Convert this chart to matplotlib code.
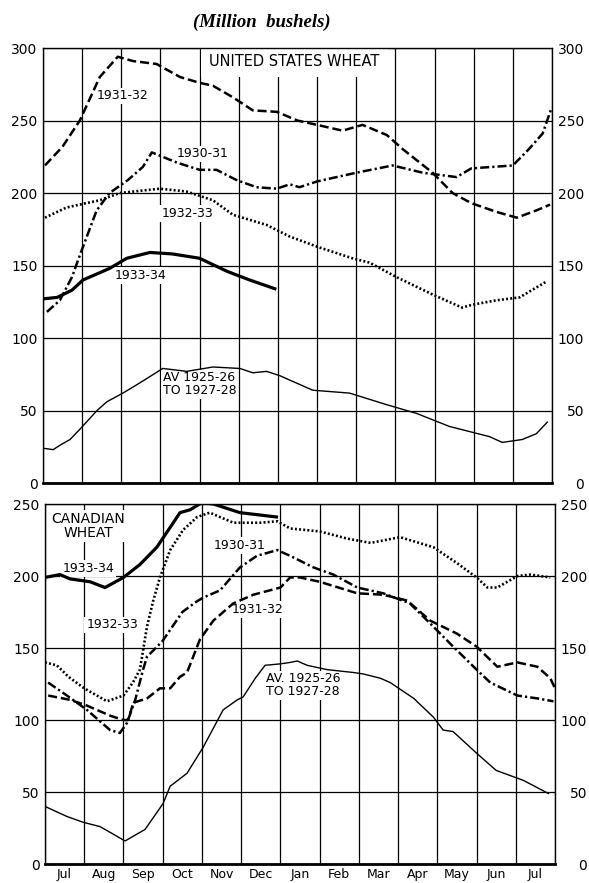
#wheat stocks chart: united states and canada, million bushels
import numpy as np
import matplotlib
matplotlib.use("Agg")
import matplotlib.pyplot as plt

plt.rcParams["font.family"] = ["DejaVu Sans"]
plt.rcParams["lines.scale_dashes"] = False

#month labels, x runs 0..13 (start of Jul to end of next Jul)
MONTHS = ["Jul", "Aug", "Sep", "Oct", "Nov", "Dec", "Jan",
          "Feb", "Mar", "Apr", "May", "Jun", "Jul"]

#united states wheat
us_3132_x = [0.05, 0.5, 0.94, 1.45, 1.91, 2.3, 2.9, 3.5, 4.0, 4.34, 4.85, 5.36, 5.97,
             6.5, 7.0, 7.65, 8.16, 8.78, 9.2, 9.95, 10.46, 10.94, 11.58, 12.1, 12.6, 12.95]
us_3132_y = [219, 232, 250, 280, 294, 291, 289, 280, 276, 274, 266, 257, 256,
             250, 247, 243, 247, 240, 230, 214, 200, 193, 187, 183, 188, 192]

us_3031_x = [0.1, 0.43, 0.74, 0.94, 1.37, 1.7, 2.17, 2.55, 2.78, 3.42, 4.0, 4.43, 4.94,
             5.45, 5.97, 6.3, 6.55, 7.0, 8.0, 8.93, 9.7, 10.56, 10.94, 12.0, 12.4, 12.76, 12.98]
us_3031_y = [118, 126, 142, 157, 188, 200, 209, 218, 228, 221, 216, 216, 209,
             204, 203, 206, 204, 208, 214, 219, 214, 211, 217, 219, 230, 241, 258]

us_3233_x = [0.05, 0.6, 1.1, 1.45, 1.96, 2.98, 3.67, 4.34, 4.85, 5.71, 6.3, 7.0, 7.9,
             8.34, 9.03, 9.95, 10.7, 10.97, 11.58, 12.17, 12.86]
us_3233_y = [183, 190, 193, 195, 200, 203, 201, 195, 185, 178, 170, 163, 155,
             152, 142, 130, 121, 123, 126, 128, 139]

us_3334_x = [0, 0.36, 0.74, 1.02, 1.7, 2.14, 2.73, 3.3, 4.0, 4.7, 5.28, 5.92]
us_3334_y = [127, 128, 133, 140, 148, 155, 159, 158, 155, 146, 140, 134]

us_avg_x = [0, 0.26, 0.43, 0.69, 0.94, 1.38, 1.63, 2.04, 2.47, 3.06, 3.67, 4.34, 5.03, 5.36,
            5.71, 6.05, 6.3, 6.89, 7.83, 8.78, 9.54, 10.38, 11.4, 11.73, 12.24, 12.6, 12.88]
us_avg_y = [24, 23, 26, 30, 37, 50, 56, 62, 69, 79, 77, 80, 79, 76,
            77, 74, 71, 64, 62, 54, 48, 39, 32, 28, 30, 34, 42]

#canadian wheat
ca_3334_x = [0, 0.38, 0.64, 1.15, 1.53, 2.0, 2.42, 2.85, 3.27, 3.44, 3.7, 4.0, 4.29, 4.97, 5.9]
ca_3334_y = [199, 201, 198, 196, 192, 199, 208, 220, 237, 244, 246, 251, 250, 244, 241]

ca_3233_x = [0, 0.3, 0.6, 1.0, 1.58, 2.0, 2.24, 2.42, 2.6, 2.76, 2.93, 3.19, 3.52, 3.88, 4.2,
             4.8, 5.48, 5.92, 6.25, 7.0, 7.7, 8.3, 9.05, 9.9, 10.5, 11.0, 11.28, 11.53,
             12.04, 12.37, 12.88]
ca_3233_y = [140, 138, 130, 122, 113, 117, 126, 135, 165, 183, 199, 218, 232, 241, 244,
             237, 237, 238, 233, 231, 226, 223, 227, 220, 209, 199, 192, 192,
             200, 201, 199]

ca_3031_x = [0.08, 0.56, 1.07, 1.66, 1.91, 2.09, 2.3, 2.5, 2.6, 2.86, 3.0, 3.3, 3.5, 3.85,
             4.03, 4.46, 4.97, 5.4, 5.92, 6.25, 6.84, 7.35, 7.96, 8.62, 9.3, 9.82, 10.33,
             11.0, 11.35, 12.04, 12.55, 12.96]
ca_3031_y = [126, 117, 107, 93, 91, 98, 114, 135, 144, 151, 155, 167, 175, 182,
             185, 190, 206, 214, 218, 214, 206, 201, 192, 188, 181, 167, 153,
             135, 126, 117, 115, 113]

ca_3132_x = [0.08, 0.64, 1.07, 1.66, 2.0, 2.12, 2.25, 2.6, 2.93, 3.19, 3.44, 3.62, 3.95,
             4.29, 4.8, 5.31, 6.0, 6.25, 6.5, 7.0, 7.96, 8.62, 9.23, 9.82, 10.5, 11.0,
             11.53, 12.04, 12.55, 12.88, 13.0]
ca_3132_y = [117, 114, 110, 103, 100, 100, 112, 115, 122, 122, 130, 133, 156,
             169, 181, 187, 192, 199, 199, 196, 188, 187, 183, 169, 160, 151,
             137, 140, 137, 129, 122]

ca_avg_x = [0, 0.56, 0.97, 1.4, 1.66, 2.04, 2.55, 3.01, 3.19, 3.62, 4.03, 4.54, 4.9, 5.05,
            5.36, 5.61, 6.0, 6.25, 6.43, 6.68, 7.19, 7.86, 8.11, 8.55, 8.8, 9.4, 9.9,
            10.15, 10.4, 11.0, 11.5, 12.2, 12.83]
ca_avg_y = [40, 33, 29, 26, 22, 16, 24, 42, 54, 63, 81, 107, 114, 116,
            129, 138, 139, 140, 141, 138, 135, 133, 132, 129, 126, 115, 102,
            93, 92, 77, 65, 58, 49]

#line styles
DASHED = dict(color="black", lw=1.8, dashes=(6.5, 2.8))
DASHDOT = dict(color="black", lw=1.8, dashes=(6.5, 2.2, 1.6, 2.2))
DOTTED = dict(color="black", lw=1.9, dashes=(1.4, 1.6))
THICK = dict(color="black", lw=2.3)
THIN = dict(color="black", lw=1.0)

LABEL_BOX = dict(facecolor="white", edgecolor="none", boxstyle="square,pad=0.15")


def setupPanel(ax, ymax, show_months):
    #limits, grid, ticks on both sides
    ax.set_xlim(0, 13)
    ax.set_ylim(0, ymax)
    yt = np.arange(0, ymax + 1, 50)
    ax.set_yticks(yt)
    ax.set_xticks(np.arange(0, 14))
    ax.set_xticklabels([])
    ax.grid(True, which="major", color="black", lw=0.9)
    ax.set_axisbelow(True)
    ax.tick_params(axis="both", which="major", length=0, labelsize=10, pad=4)
    for name, sp in ax.spines.items():
        sp.set_linewidth(1.0)
        sp.set_zorder(6)
    ax.spines["bottom"].set_linewidth(2.0)

    if show_months:
        ax.set_xticks(np.arange(13) + 0.5, minor=True)
        ax.set_xticklabels(MONTHS, minor=True, fontsize=9)
        ax.tick_params(axis="x", which="minor", length=0, pad=3)

    #right side labels, right aligned near the edge
    ax2 = ax.twinx()
    ax2.set_ylim(0, ymax)
    ax2.set_yticks(yt)
    ax2.tick_params(axis="y", length=0, labelsize=10, pad=23)
    plt.setp(ax2.get_yticklabels(), ha="right")
    for sp in ax2.spines.values():
        sp.set_visible(False)


def label(ax, x, y, s, size=9, **kw):
    ax.text(x, y, s, fontsize=size, ha="center", va="center",
            bbox=LABEL_BOX, zorder=3, **kw)


fig = plt.figure(figsize=(5.89, 8.83), dpi=100)
fig.text(0.445, 0.975, "(Million  bushels)", family="Liberation Serif",
         style="italic", fontweight="bold", fontsize=13.5, ha="center", va="center")

#top panel
ax_us = fig.add_axes([0.0730, 0.4530, 0.8642, 0.4926])
setupPanel(ax_us, 300, False)
ax_us.plot(us_3132_x, us_3132_y, zorder=4, **DASHED)
ax_us.plot(us_3031_x, us_3031_y, zorder=4, **DASHDOT)
ax_us.plot(us_3233_x, us_3233_y, zorder=4, **DOTTED)
ax_us.plot(us_3334_x, us_3334_y, zorder=4, **THICK)
ax_us.plot(us_avg_x, us_avg_y, zorder=4, **THIN)

ax_us.text(6.42, 290.5, "UNITED STATES WHEAT", fontsize=10.5, ha="center", va="center",
           zorder=3, bbox=dict(facecolor="white", edgecolor="none",
                               boxstyle="square,pad=0.55"))
label(ax_us, 2.04, 267, "1931-32")
label(ax_us, 4.08, 227, "1930-31")
label(ax_us, 3.68, 186, "1932-33")
label(ax_us, 2.48, 143, "1933-34")
label(ax_us, 4.0, 68, "AV 1925-26\nTO 1927-28", linespacing=1.0, multialignment="left")

#bottom panel
ax_ca = fig.add_axes([0.0764, 0.0215, 0.8659, 0.4077])
setupPanel(ax_ca, 250, True)
ax_ca.plot(ca_3132_x, ca_3132_y, zorder=4, **DASHED)
ax_ca.plot(ca_3031_x, ca_3031_y, zorder=4, **DASHDOT)
ax_ca.plot(ca_3233_x, ca_3233_y, zorder=4, **DOTTED)
ax_ca.plot(ca_3334_x, ca_3334_y, zorder=4, **THICK)
ax_ca.plot(ca_avg_x, ca_avg_y, zorder=4, **THIN)

label(ax_ca, 1.1, 235, "CANADIAN\nWHEAT", size=10, linespacing=1.0)
label(ax_ca, 1.1, 205, "1933-34")
label(ax_ca, 1.71, 166, "1932-33")
label(ax_ca, 4.97, 221, "1930-31")
label(ax_ca, 5.43, 177, "1931-32")
label(ax_ca, 6.58, 124, "AV. 1925-26\nTO 1927-28", linespacing=1.0)

fig.savefig("out.png", dpi=100)
